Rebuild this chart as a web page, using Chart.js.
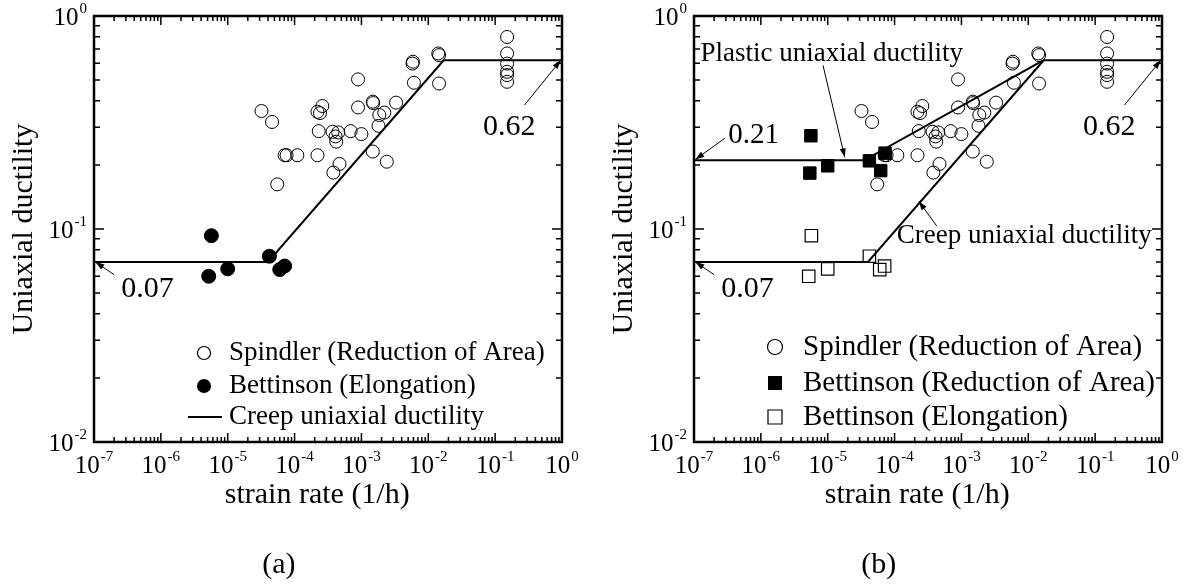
<!DOCTYPE html>
<html>
<head>
<meta charset="utf-8">
<script src="https://cdn.jsdelivr.net/npm/chart.js@4.4.0/dist/chart.umd.min.js"></script>
<style>
  html, body { margin: 0; padding: 0; background: #fff; }
  #wrap { position: relative; width: 1196px; height: 584px; }
  .panel { position: absolute; top: 0; width: 598px; height: 584px; }
  #panelA { left: 0; }
  #panelB { left: 598px; }
</style>
</head>
<body>
<div id="wrap">
  <div class="panel" id="panelA"><canvas id="chartA" width="598" height="584"></canvas></div>
  <div class="panel" id="panelB"><canvas id="chartB" width="598" height="584"></canvas></div>
</div>
<script>
// strain rate (1/h) vs uniaxial ductility
const spindlerRate = [3.2e-5, 4.6e-5, 5.5e-5, 7.1e-5, 7.6e-5, 1.1e-4, 2.2e-4, 2.3e-4, 2.2e-4, 2.6e-4,
  2.4e-4, 3.7e-4, 4.1e-4, 4.2e-4, 4.5e-4, 4.7e-4, 3.8e-4, 6.9e-4, 1.0e-3, 8.9e-4,
  8.9e-4, 1.48e-3, 1.5e-3, 1.85e-3, 2.2e-3, 1.8e-3, 1.48e-3, 2.4e-3, 3.3e-3, 5.8e-3,
  5.9e-3, 6.1e-3, 0.0141, 0.0145, 0.0145, 0.151, 0.151, 0.151, 0.151, 0.151, 0.151];
const spindlerDuct = [0.358, 0.318, 0.162, 0.222, 0.222, 0.222, 0.222, 0.288, 0.355, 0.378,
  0.35, 0.286, 0.272, 0.257, 0.284, 0.202, 0.184, 0.288, 0.279, 0.372,
  0.504, 0.396, 0.39, 0.343, 0.352, 0.305, 0.231, 0.207, 0.392, 0.598,
  0.61, 0.486, 0.667, 0.655, 0.482, 0.797, 0.667, 0.598, 0.547, 0.528, 0.491];

const bettElRate = [5.7e-6, 5.2e-6, 1.0e-5, 4.2e-5, 6.0e-5, 7.1e-5];
const bettElDuct = [0.093, 0.060, 0.065, 0.0745, 0.0645, 0.067];

const bettRaRate = [5.6e-6, 5.4e-6, 1.0e-5, 4.2e-5, 6.2e-5, 7.2e-5];
const bettRaDuct = [0.274, 0.183, 0.198, 0.209, 0.188, 0.227];

const creepRate = [1e-7, 4e-5, 0.017, 1];
const creepDuct = [0.07, 0.07, 0.62, 0.62];
const plasticRate = [1e-7, 3.5e-5, 0.017];
const plasticDuct = [0.21, 0.21, 0.62];

const xTickExps = [-7, -6, -5, -4, -3, -2, -1, 0];
const yTickExps = [-2, -1, 0];

const SERIF = '"Liberation Serif", "Times New Roman", serif';

function pts(xs, ys) {
  return xs.map((x, i) => ({ x: x, y: ys[i] }));
}

function drawArrow(ctx, x1, y1, x2, y2) {
  const ang = Math.atan2(y2 - y1, x2 - x1);
  ctx.beginPath();
  ctx.moveTo(x1, y1);
  ctx.lineTo(x2, y2);
  ctx.lineWidth = 1;
  ctx.stroke();
  ctx.beginPath();
  ctx.moveTo(x2, y2);
  ctx.lineTo(x2 - 9 * Math.cos(ang) + 3 * Math.sin(ang), y2 - 9 * Math.sin(ang) - 3 * Math.cos(ang));
  ctx.lineTo(x2 - 9 * Math.cos(ang) - 3 * Math.sin(ang), y2 - 9 * Math.sin(ang) + 3 * Math.cos(ang));
  ctx.closePath();
  ctx.fill();
}

// "10" with a raised exponent; x is left edge
function drawPower(ctx, exp, x, baseline) {
  ctx.font = '25px ' + SERIF;
  ctx.textAlign = 'left';
  ctx.textBaseline = 'alphabetic';
  ctx.fillText('10', x, baseline);
  const w = ctx.measureText('10').width;
  ctx.font = '15px ' + SERIF;
  ctx.fillText(String(exp), x + w + 1, baseline - 12);
}

function powerWidth(ctx, exp) {
  ctx.font = '25px ' + SERIF;
  const w = ctx.measureText('10').width;
  ctx.font = '15px ' + SERIF;
  return w + 1 + ctx.measureText(String(exp)).width;
}

function drawMarker(ctx, kind, x, y, r) {
  ctx.lineWidth = 1.2;
  ctx.beginPath();
  if (kind === 'circle' || kind === 'dot') {
    ctx.arc(x, y, r, 0, Math.PI * 2);
  } else {
    ctx.rect(x - r, y - r, 2 * r, 2 * r);
  }
  if (kind === 'dot' || kind === 'square') ctx.fill();
  else ctx.stroke();
}

function framePlugin(cfg) {
  return {
    id: 'frame',
    afterDatasetsDraw(chart) {
      const ctx = chart.ctx;
      const xs = chart.scales.x, ys = chart.scales.y;
      const a = chart.chartArea;
      ctx.save();
      ctx.strokeStyle = '#000';
      ctx.fillStyle = '#000';

      // tick marks on all four sides, pointing in
      ctx.lineWidth = 1.5;
      ctx.beginPath();
      xTickExps.forEach(e => {
        for (let k = 1; k <= 9; k++) {
          if (e === 0 && k > 1) break;
          const px = xs.getPixelForValue(k * Math.pow(10, e));
          const len = k === 1 ? 9 : 5;
          ctx.moveTo(px, a.bottom); ctx.lineTo(px, a.bottom - len);
          ctx.moveTo(px, a.top); ctx.lineTo(px, a.top + len);
        }
      });
      yTickExps.forEach(e => {
        for (let k = 1; k <= 9; k++) {
          if (e === 0 && k > 1) break;
          const py = ys.getPixelForValue(k * Math.pow(10, e));
          const len = k === 1 ? 10 : 6;
          ctx.moveTo(a.left, py); ctx.lineTo(a.left + len, py);
          ctx.moveTo(a.right, py); ctx.lineTo(a.right - len, py);
        }
      });
      ctx.stroke();

      ctx.lineWidth = 2.5;
      ctx.strokeRect(a.left, a.top, a.right - a.left, a.bottom - a.top);

      // tick labels
      xTickExps.forEach(e => {
        const px = xs.getPixelForValue(Math.pow(10, e));
        const w = powerWidth(ctx, e);
        drawPower(ctx, e, px - w / 2, a.bottom + 31);
      });
      yTickExps.forEach(e => {
        const py = ys.getPixelForValue(Math.pow(10, e));
        const w = powerWidth(ctx, e);
        drawPower(ctx, e, a.left - 7 - w, py + 9);
      });

      // axis titles
      ctx.font = '30px ' + SERIF;
      ctx.textAlign = 'center';
      ctx.textBaseline = 'middle';
      ctx.fillText('strain rate (1/h)', a.left + 0.477 * (a.right - a.left), a.bottom + 53);
      ctx.save();
      ctx.translate(a.left - 70, (a.top + a.bottom) / 2);
      ctx.rotate(-Math.PI / 2);
      ctx.fillText('Uniaxial ductility', 0, 0);
      ctx.restore();

      // panel label
      ctx.fillText(cfg.label, a.left + 0.395 * (a.right - a.left), 565);

      // annotations with arrows
      cfg.notes.forEach(n => {
        ctx.font = n.size + 'px ' + SERIF;
        ctx.textAlign = 'center';
        ctx.textBaseline = 'middle';
        ctx.fillText(n.text, xs.getPixelForValue(n.at[0]), ys.getPixelForValue(n.at[1]));
        drawArrow(ctx,
          xs.getPixelForValue(n.from[0]), ys.getPixelForValue(n.from[1]),
          xs.getPixelForValue(n.to[0]), ys.getPixelForValue(n.to[1]));
      });

      // legend
      const lg = cfg.legend;
      lg.items.forEach((it, i) => {
        const y = lg.rows[i];
        if (it.kind === 'line') {
          ctx.lineWidth = 2;
          ctx.beginPath();
          ctx.moveTo(a.left + lg.markerX - 16, y);
          ctx.lineTo(a.left + lg.markerX + 18, y);
          ctx.stroke();
        } else {
          drawMarker(ctx, it.kind, a.left + lg.markerX, y, it.r);
        }
        ctx.font = lg.size + 'px ' + SERIF;
        ctx.textAlign = 'left';
        ctx.textBaseline = 'middle';
        ctx.fillText(it.text, a.left + lg.textX, y);
      });

      ctx.restore();
    }
  };
}

function baseOptions(pad) {
  return {
    responsive: false,
    animation: false,
    devicePixelRatio: 1,
    layout: { padding: pad },
    plugins: { legend: { display: false }, tooltip: { enabled: false } },
    scales: {
      x: {
        type: 'logarithmic', min: 1e-7, max: 1,
        ticks: { display: false }, grid: { display: false }, border: { display: false },
        afterFit: s => { s.height = 0; }
      },
      y: {
        type: 'logarithmic', min: 0.01, max: 1,
        ticks: { display: false }, grid: { display: false }, border: { display: false },
        afterFit: s => { s.width = 0; }
      }
    }
  };
}

function lineSet(xs, ys) {
  return {
    data: pts(xs, ys), showLine: true, borderColor: '#000', borderWidth: 2,
    pointRadius: 0, tension: 0, fill: false
  };
}

const spindlerSet = {
  data: pts(spindlerRate, spindlerDuct), pointStyle: 'circle', pointRadius: 6.5,
  borderColor: '#000', borderWidth: 1, backgroundColor: 'rgba(0,0,0,0)'
};

const notes007 = { text: '0.07', size: 30, at: [6.3e-7, 0.052], from: [2.0e-7, 0.061], to: [1.05e-7, 0.07] };
const notes062 = { text: '0.62', size: 30, at: [0.162, 0.30], from: [0.275, 0.382], to: [0.96, 0.62] };

new Chart(document.getElementById('chartA'), {
  type: 'scatter',
  data: {
    datasets: [
      { data: pts(bettElRate, bettElDuct), pointStyle: 'circle', pointRadius: 7,
        borderColor: '#000', backgroundColor: '#000', borderWidth: 1 },
      spindlerSet,
      lineSet(creepRate, creepDuct)
    ]
  },
  options: baseOptions({ left: 94, right: 36, top: 16, bottom: 142 }),
  plugins: [framePlugin({
    label: '(a)',
    notes: [notes007, notes062],
    legend: {
      markerX: 110, textX: 135, rows: [353, 386, 417], size: 27,
      items: [
        { kind: 'circle', r: 6.5, text: 'Spindler (Reduction of Area)' },
        { kind: 'dot', r: 7, text: 'Bettinson (Elongation)' },
        { kind: 'line', text: 'Creep uniaxial ductility' }
      ]
    }
  })]
});

new Chart(document.getElementById('chartB'), {
  type: 'scatter',
  data: {
    datasets: [
      { data: pts(bettRaRate, bettRaDuct), pointStyle: 'rect', pointRadius: 8.8,
        borderColor: '#000', backgroundColor: '#000', borderWidth: 1 },
      { data: pts(bettElRate, bettElDuct), pointStyle: 'rect', pointRadius: 8.8,
        borderColor: '#000', backgroundColor: 'rgba(0,0,0,0)', borderWidth: 1.2 },
      spindlerSet,
      lineSet(creepRate, creepDuct),
      lineSet(plasticRate, plasticDuct)
    ]
  },
  options: baseOptions({ left: 96, right: 34, top: 16, bottom: 142 }),
  plugins: [framePlugin({
    label: '(b)',
    notes: [
      notes007, notes062,
      { text: '0.21', size: 29, at: [7.8e-7, 0.276], from: [2.9e-7, 0.267], to: [1.05e-7, 0.212] },
      { text: 'Plastic uniaxial ductility', size: 27, at: [1.15e-5, 0.667], from: [8.5e-6, 0.587], to: [1.8e-5, 0.217] },
      { text: 'Creep uniaxial ductility', size: 27, at: [8.7e-3, 0.0925], from: [4.3e-4, 0.103], to: [2.3e-4, 0.135] }
    ],
    legend: {
      markerX: 81, textX: 109, rows: [347, 383, 417], size: 29,
      items: [
        { kind: 'circle', r: 7.5, text: 'Spindler (Reduction of Area)' },
        { kind: 'square', r: 7, text: 'Bettinson (Reduction of Area)' },
        { kind: 'open', r: 7, text: 'Bettinson (Elongation)' }
      ]
    }
  })]
});
</script>
</body>
</html>
